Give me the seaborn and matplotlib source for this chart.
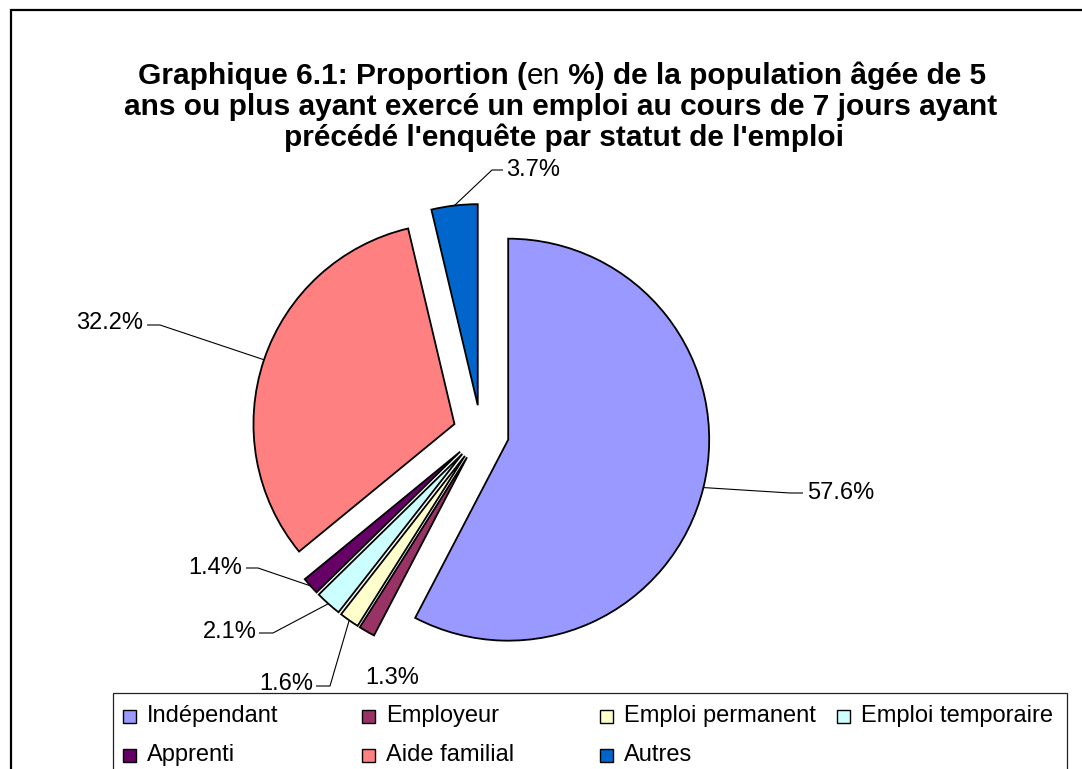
import numpy as np
import seaborn as sns
import matplotlib.pyplot as plt
from matplotlib.patches import Rectangle

# data
categories = ['Indépendant', 'Employeur', 'Emploi permanent', 'Emploi temporaire',
              'Apprenti', 'Aide familial', 'Autres']
shares = [57.6, 1.3, 1.6, 2.1, 1.4, 32.2, 3.7]
colors = ['#9999FF', '#993366', '#FFFFCC', '#CCFFFF', '#660066', '#FF8080', '#0066CC']

sns.set_theme(style="white")
plt.rcParams['font.family'] = ['Liberation Sans', 'DejaVu Sans']
plt.rcParams['text.color'] = 'black'

W, H = 1082, 769
fig = plt.figure(figsize=(W / 100, H / 100), dpi=100)
ax = fig.add_axes([0, 0, 1, 1])

# pie in pixel-like coordinates (y up)
cx, cy, rad = 481, H - 433, 201
wedges, _ = ax.pie(shares, colors=colors, startangle=90, counterclock=False,
                   center=(cx, cy), radius=rad, explode=[28] * len(shares),
                   wedgeprops=dict(edgecolor='black', linewidth=1.3))
ax.set_xlim(0, W)
ax.set_ylim(0, H)
ax.set_aspect('equal')
ax.axis('off')


def arc_mid(w):
    t = np.deg2rad((w.theta1 + w.theta2) / 2)
    return w.center[0] + w.r * np.cos(t), w.center[1] + w.r * np.sin(t)


# label layout: (elbow, line end, text pos, ha)  in image pixels (y down)
lab_layout = [
    ((790, 493), (803, 493), (807, 493), 'left'),
    (None, None, (392, 678), 'center'),
    ((330, 686), (316, 686), (313, 684), 'right'),
    ((273, 633), (259, 633), (257, 632), 'right'),
    ((258, 568), (246, 568), (242, 568), 'right'),
    ((160, 325), (147, 325), (143, 323), 'right'),
    ((492, 170), (503, 170), (506, 170), 'left'),
]
for w, v, (elb, end, tp, ha) in zip(wedges, shares, lab_layout):
    if elb is not None:
        x0, y0 = arc_mid(w)
        ax.plot([x0, elb[0], end[0]], [y0, H - elb[1], H - end[1]],
                color='black', lw=0.8, solid_capstyle='butt')
    ax.text(tp[0], H - tp[1], f"{v:.1f}%", ha=ha, va='center', fontsize=17)

# title, first line has a non-bold "en"
tsize = 21.5
fig.canvas.draw()
r = fig.canvas.get_renderer()
parts = [("Graphique 6.1: Proportion (", 'bold'), ("en", 'normal'),
         (" %) de la population âgée de 5", 'bold')]
txts = [ax.text(0, H - 76, s, fontsize=tsize, fontweight=fw, va='center', ha='left')
        for s, fw in parts]
widths = [t.get_window_extent(renderer=r).width for t in txts]
x = 562 - sum(widths) / 2
for t, wd in zip(txts, widths):
    t.set_x(x)
    x += wd
ax.text(561, H - 107, "ans ou plus ayant exercé un emploi au cours de 7 jours ayant",
        fontsize=tsize, fontweight='bold', ha='center', va='center')
ax.text(564, H - 138, "précédé l'enquête par statut de l'emploi",
        fontsize=tsize, fontweight='bold', ha='center', va='center')

# legend drawn by hand: 4 equal columns, 2 rows
ax.add_patch(Rectangle((113, -10), 1067 - 113, H - 693 + 10, fill=False,
                       edgecolor='#222222', lw=0.9, clip_on=False))
col_x = [123, 362, 600, 837]
row_y = [716, 755]
for i, (name, c) in enumerate(zip(categories, colors)):
    bx, by = col_x[i % 4], row_y[i // 4]
    ax.add_patch(Rectangle((bx, H - by - 6.5), 13, 13, facecolor=c,
                           edgecolor='black', lw=1.0))
    ax.text(bx + 24, H - by, name, fontsize=17, ha='left', va='center')

# chart border
ax.add_patch(Rectangle((11, -20), 1100, H - 10 + 20, fill=False,
                       edgecolor='black', lw=1.6, clip_on=False))

fig.savefig('out.png', dpi=100)
